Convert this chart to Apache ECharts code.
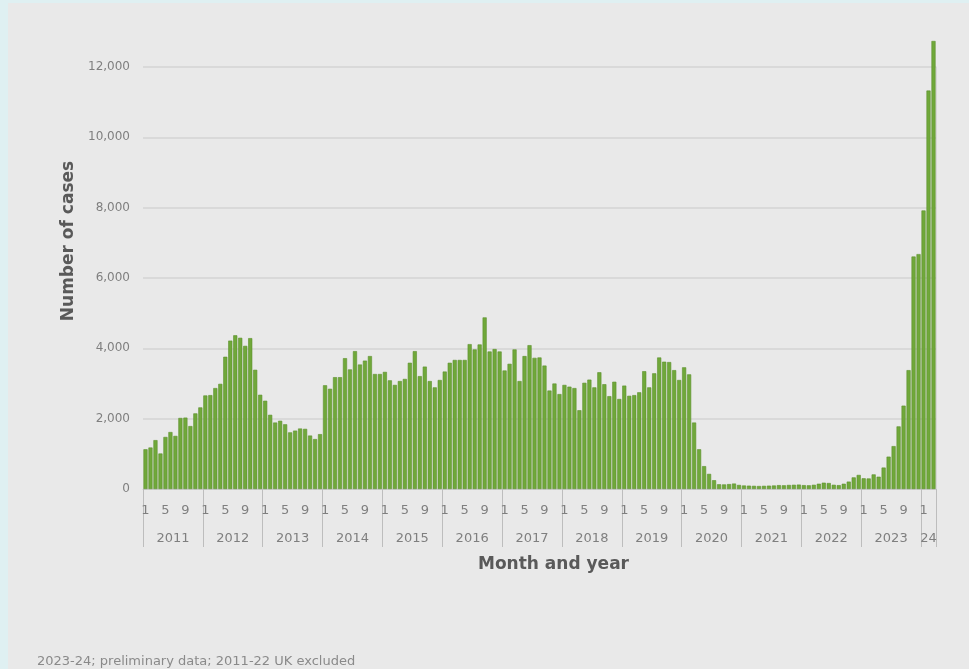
<!DOCTYPE html>
<html><head><meta charset="utf-8">
<script src="https://cdn.jsdelivr.net/npm/echarts/dist/echarts.min.js"></script>
<style>
html,body{margin:0;padding:0;background:#dff0f2;width:969px;height:669px;overflow:hidden;}
#c{position:absolute;left:8px;top:3px;width:961px;height:666px;background:#e9e9e9;}
</style></head><body><div id="c"></div>
<script>
const years = [2011,2012,2013,2014,2015,2016,2017,2018,2019,2020,2021,2022,2023,2024];
const yearLabels = ['2011','2012','2013','2014','2015','2016','2017','2018','2019','2020','2021','2022','2023','24'];
const monthTickLabels = [1,5,9];
const yTicks = [0,2000,4000,6000,8000,10000,12000];

const c2011 = [1130,1180,1390,1010,1480,1620,1510,2020,2030,1790,2150,2320];
const c2012 = [2660,2670,2870,2990,3760,4220,4370,4300,4070,4290,3390,2680];
const c2013 = [2510,2110,1890,1940,1840,1610,1660,1720,1710,1520,1420,1560];
const c2014 = [2950,2850,3180,3180,3720,3400,3920,3540,3650,3780,3270,3270];
const c2015 = [3330,3090,2960,3070,3130,3590,3920,3210,3480,3070,2890,3100];
const c2016 = [3340,3590,3670,3670,3670,4120,3970,4110,4880,3910,3980,3910];
const c2017 = [3370,3560,3970,3070,3780,4090,3730,3740,3510,2800,3000,2700];
const c2018 = [2960,2910,2870,2240,3020,3110,2890,3320,2980,2640,3050,2560];
const c2019 = [2940,2650,2670,2750,3350,2890,3290,3740,3620,3610,3380,3100];
const c2020 = [3460,3260,1890,1130,650,430,250,135,130,140,155,115];
const c2021 = [100,95,90,85,90,95,100,110,105,115,120,125];
const c2022 = [110,105,120,150,180,170,120,110,150,210,330,400];
const c2023 = [305,300,415,350,610,920,1220,1780,2370,3380,6610,6680];
const c2024 = [7920,11330,12740];

const perYear = [c2011,c2012,c2013,c2014,c2015,c2016,c2017,c2018,c2019,c2020,c2021,c2022,c2023,c2024];
const cats = [], vals = [], catMonth = [];
perYear.forEach((arr, yi) => {
  arr.forEach((v, mi) => {
    cats.push(years[yi] + '-' + (mi + 1));
    vals.push(v);
    catMonth.push(mi + 1);
  });
});
const yearLabelIdx = {};
perYear.forEach((arr, yi) => {
  const start = cats.indexOf(years[yi] + '-1');
  yearLabelIdx[start + Math.floor(arr.length / 2)] = yi;
});

const chart = echarts.init(document.getElementById('c'));
const axisFont = 'DejaVu Sans';
chart.setOption({
  backgroundColor: '#e9e9e9',
  animation: false,
  grid: {left: 135, width: 793, top: 64, bottom: 180, containLabel: false},
  xAxis: [{
    type: 'category',
    data: cats,
    position: 'bottom',
    axisLine: {show: true, lineStyle: {color: '#cbcbcb', width: 1}},
    axisTick: {show: true, alignWithLabel: false, length: 58, lineStyle: {color: '#bdbdbd', width: 1},
      interval: (i) => catMonth[i] === 1},
    axisLabel: {
      interval: (i) => monthTickLabels.includes(catMonth[i]),
      formatter: (v, i) => String(catMonth[i]),
      color: '#7f7f7f', fontFamily: axisFont, fontSize: 13, margin: 15
    },
    name: 'Month and year',
    nameLocation: 'middle',
    nameGap: 67,
    nameTextStyle: {color: '#595959', fontFamily: axisFont, fontWeight: 'bold', fontSize: 17, padding: [0,0,0,28]}
  }, {
    type: 'category',
    data: cats,
    position: 'bottom',
    axisLine: {show: false},
    axisTick: {show: false},
    axisLabel: {
      interval: (i) => yearLabelIdx[i] !== undefined,
      formatter: (v, i) => {
        const yi = yearLabelIdx[i];
        return perYear[yi].length % 2 === 0 ? '{e|' + yearLabels[yi] + '}' : '{o|' + yearLabels[yi] + '}';
      },
      rich: {
        e: {color: '#7f7f7f', fontFamily: axisFont, fontSize: 13, padding: [0,5,0,0]},
        o: {color: '#7f7f7f', fontFamily: axisFont, fontSize: 13}
      },
      margin: 43
    }
  }],
  yAxis: [{
    type: 'value',
    min: yTicks[0],
    max: yTicks[yTicks.length - 1],
    interval: 2000,
    axisLine: {show: false},
    axisTick: {show: false},
    splitLine: {show: true, lineStyle: {color: '#d3d3d3', width: 1.5}},
    axisLabel: {
      formatter: (v) => v.toLocaleString('en-US'),
      color: '#7f7f7f', fontFamily: axisFont, fontSize: 12, margin: 13
    },
    name: 'Number of cases',
    nameLocation: 'middle',
    nameGap: 63,
    nameTextStyle: {color: '#595959', fontFamily: axisFont, fontWeight: 'bold', fontSize: 17, padding: [0,0,0,74]}
  }, {
    type: 'value',
    position: 'right',
    min: yTicks[0],
    max: yTicks[yTicks.length - 1],
    interval: 2000,
    axisLine: {show: true, lineStyle: {color: '#d6d6d6', width: 1}},
    axisTick: {show: false},
    axisLabel: {show: false},
    splitLine: {show: false}
  }],
  series: [{
    type: 'bar',
    data: vals,
    xAxisIndex: 0,
    yAxisIndex: 0,
    clip: false,
    barCategoryGap: '18%',
    itemStyle: {color: '#70a83a', borderColor: '#5c902e', borderWidth: 0.6}
  }],
  graphic: [{
    type: 'text',
    left: 29,
    top: 652,
    style: {text: '2023-24; preliminary data; 2011-22 UK excluded', fill: '#8a8a8a', font: '13px "DejaVu Sans"'}
  }]
});
</script></body></html>
